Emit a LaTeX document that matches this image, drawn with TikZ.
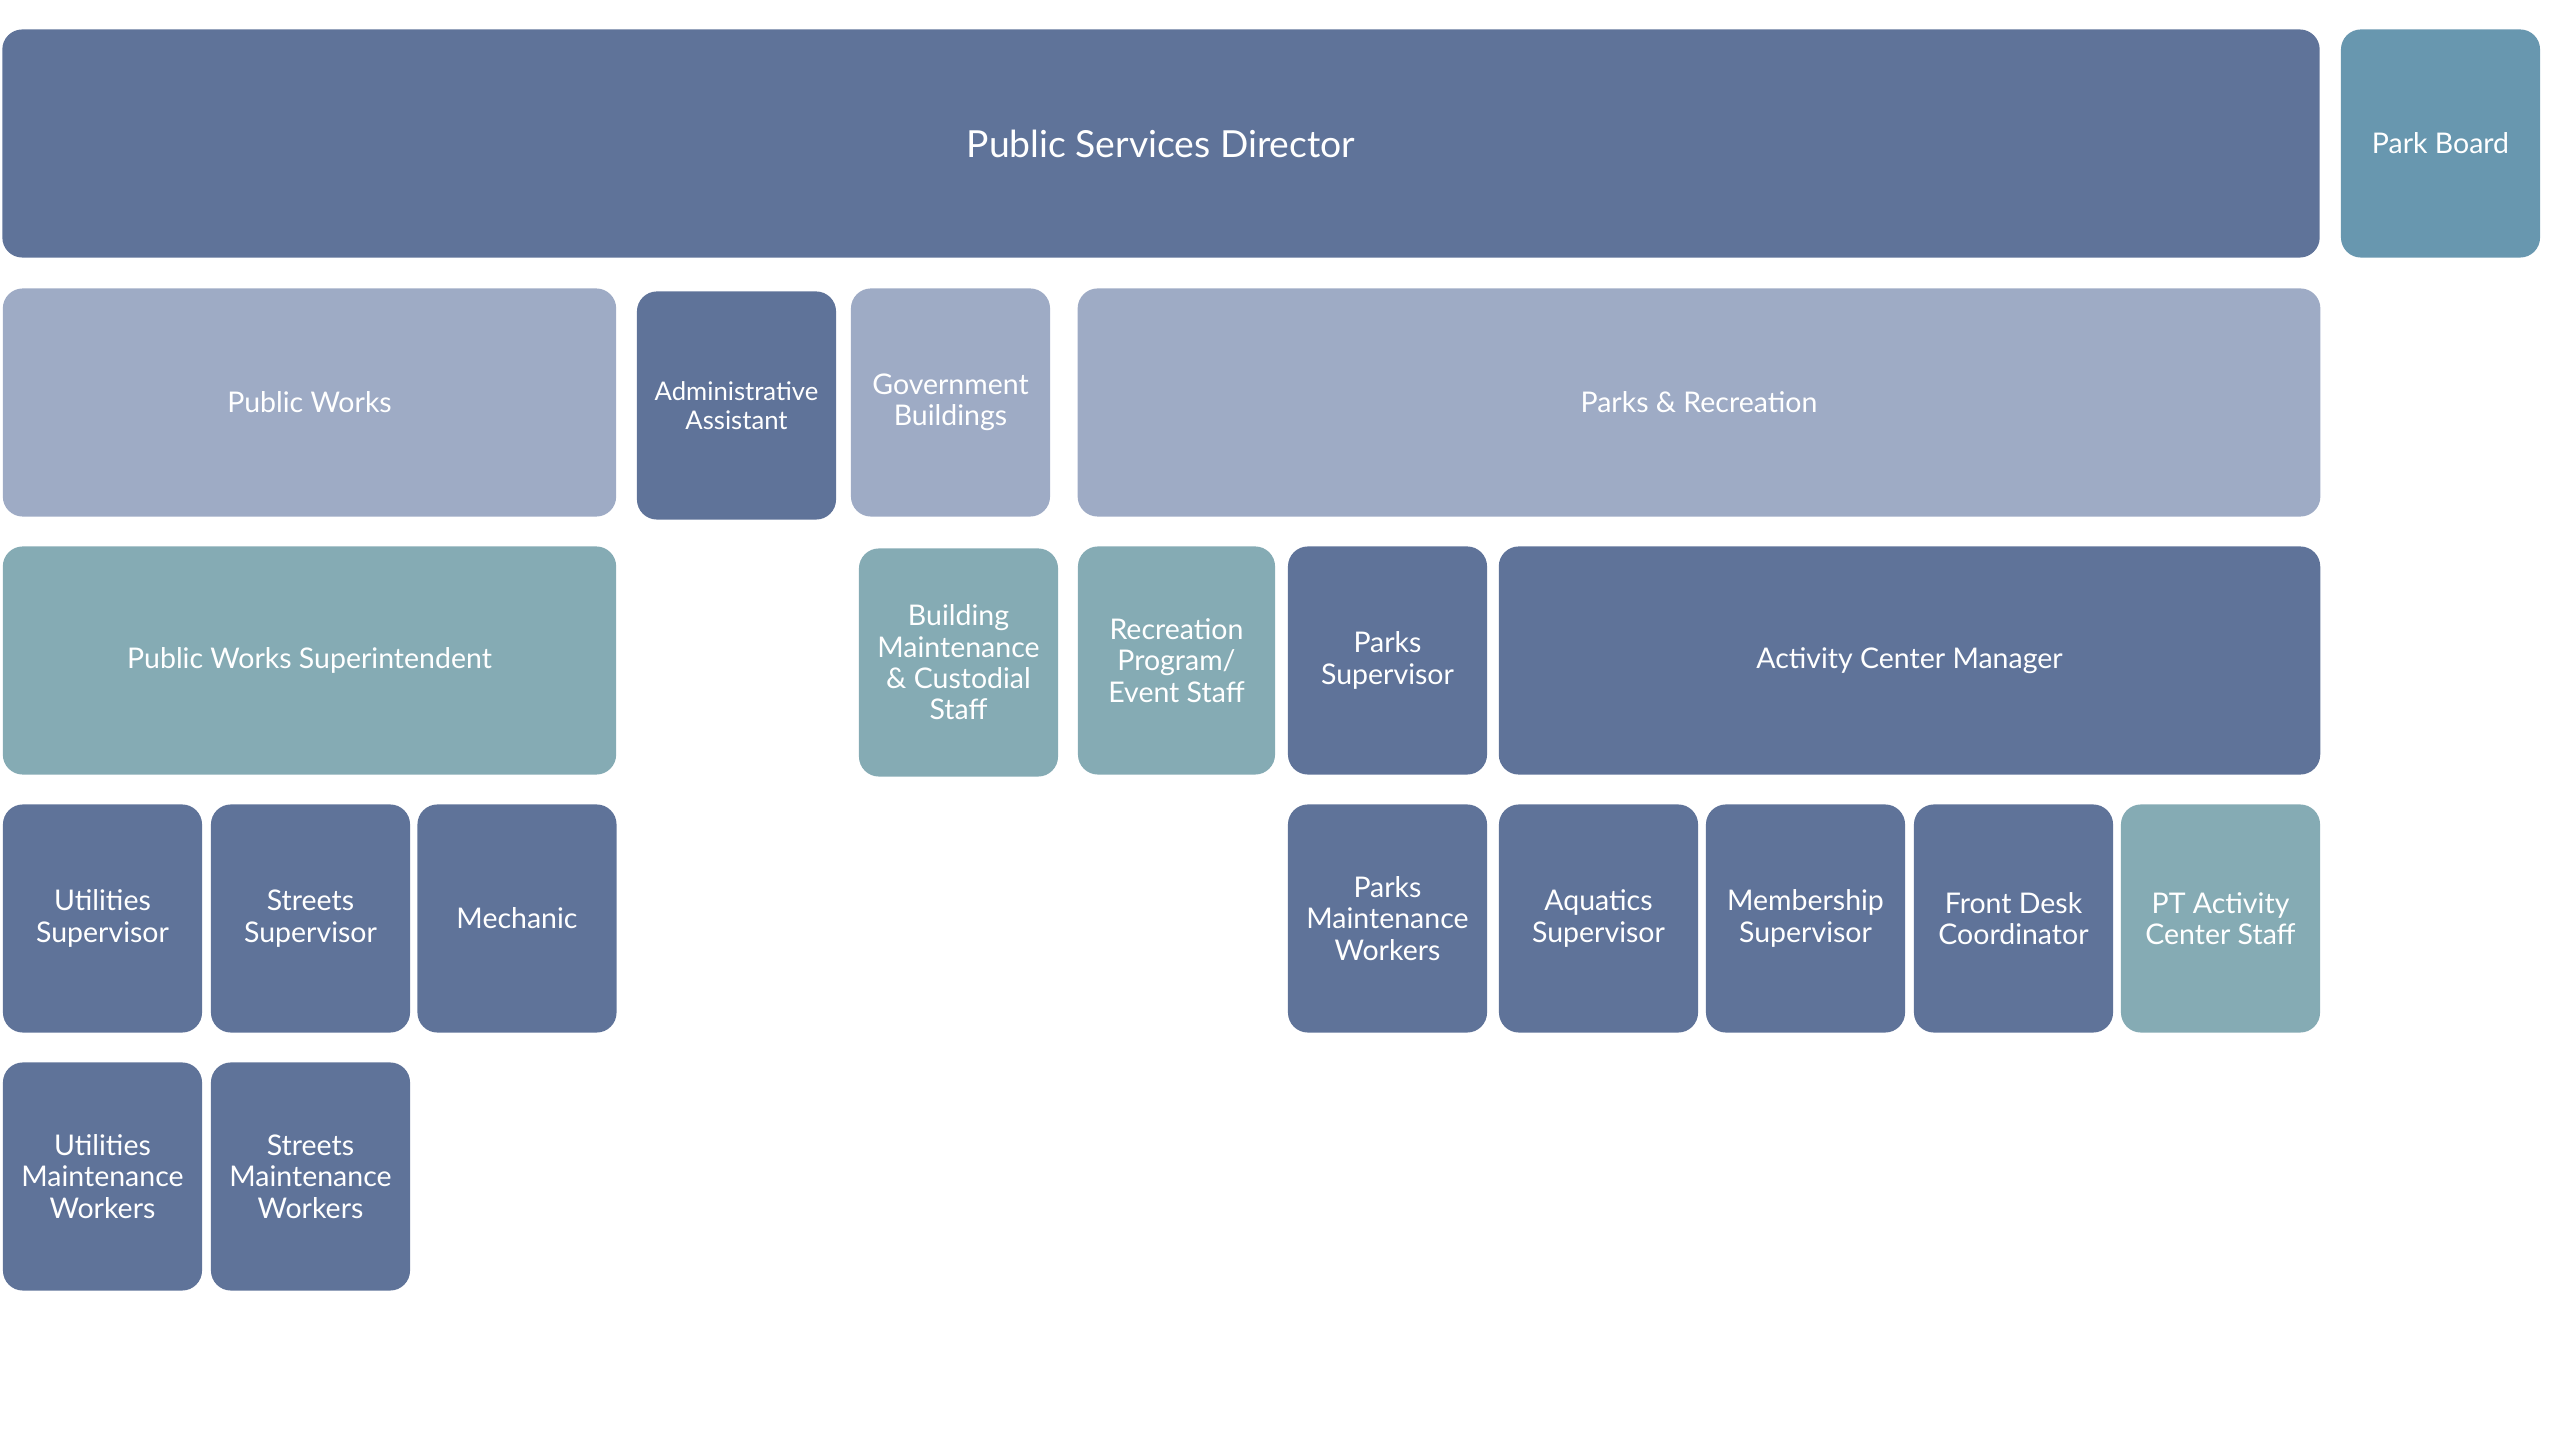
\documentclass[tikz,border=0pt]{standalone}
\usepackage{fontspec}
\setmainfont{Lato}
\usepackage{xcolor}
\usepackage{tikz}

\definecolor{darkslate}{RGB}{95,115,153}
\definecolor{lightslate}{RGB}{158,171,197}
\definecolor{tealgray}{RGB}{133,171,180}
\definecolor{boardblue}{RGB}{104,151,175}

\tikzset{
    unit/.style = {rounded corners = 0.2cm, inner sep = 0pt, align = center,
                   text = white, minimum height = 2.28cm, minimum width = 1.99cm,
                   font = \fontsize{8.1}{8.9}\selectfont},
    dark/.style = {unit, fill = darkslate},
    light/.style = {unit, fill = lightslate},
    teal/.style = {unit, fill = tealgray},
}

\begin{document}
\begin{tikzpicture}[x = 0.01cm, y = -0.01cm]
        \useasboundingbox (0, 0) rectangle (2560, 1440);
        % top row
        \node (dir) at (1161, 143.5) [dark, minimum width = 23.16cm, font = \fontsize{10.6}{12}\selectfont] {Public Services Director};
        \node (board) at (2440.5, 143.5) [unit, fill = boardblue] {Park Board};
        % departments
        \node (pw) at (309.5, 402.5) [light, minimum width = 6.13cm] {Public Works};
        \node (admin) at (736.5, 405.5) [dark, font = \fontsize{7.3}{8.3}\selectfont] {Administrative\\Assistant};
        \node (gov) at (950.5, 402.5) [light] {Government\\Buildings};
        \node (parks) at (1699, 402.5) [light, minimum width = 12.42cm] {Parks \& Recreation};
        % third row
        \node (pws) at (309.5, 660.5) [teal, minimum width = 6.13cm] {Public Works Superintendent};
        \node (bldg) at (958.5, 662.5) [teal] {Building\\Maintenance\\\& Custodial\\Staff};
        \node (rec) at (1176.5, 660.5) [teal, minimum width = 1.97cm] {Recreation\\Program/\\Event Staff};
        \node (parksup) at (1387.5, 660.5) [dark] {Parks\\Supervisor};
        \node (acm) at (1909.5, 660.5) [dark, minimum width = 8.21cm] {Activity Center Manager};
        % fourth row
        \node (utilsup) at (102.5, 918.5) [dark] {Utilities\\Supervisor};
        \node (strsup) at (310.5, 918.5) [dark] {Streets\\Supervisor};
        \node (mech) at (517, 918.5) [dark] {Mechanic};
        \node (pmw) at (1387.5, 918.5) [dark] {Parks\\Maintenance\\Workers};
        \node (aqua) at (1598.5, 918.5) [dark] {Aquatics\\Supervisor};
        \node (memb) at (1805.5, 918.5) [dark] {Membership\\Supervisor};
        \node (front) at (2013.5, 918.5) [dark] {Front Desk\\Coordinator};
        \node (pt) at (2220.5, 918.5) [teal] {PT Activity\\Center Staff};
        % bottom row
        \node (utilmw) at (102.5, 1176.5) [dark] {Utilities\\Maintenance\\Workers};
        \node (strmw) at (310.5, 1176.5) [dark] {Streets\\Maintenance\\Workers};
    \end{tikzpicture}
\end{document}
